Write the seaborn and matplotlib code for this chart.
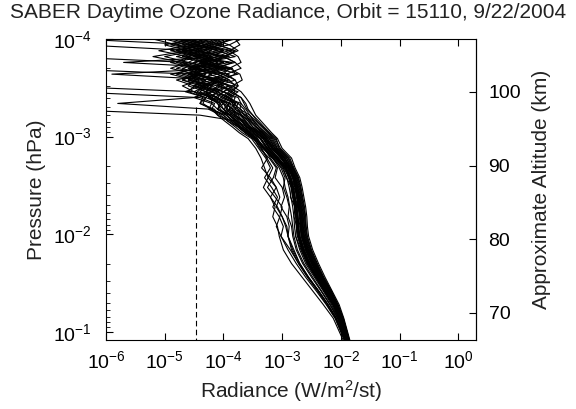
import matplotlib
matplotlib.use("Agg")
import matplotlib.pyplot as plt
import numpy as np
import pandas as pd
import seaborn as sns
from matplotlib.ticker import LogLocator, NullLocator, NullFormatter, FuncFormatter

# ---------------- data ----------------
title = "SABER Daytime Ozone Radiance, Orbit = 15110, 9/22/2004"
x_label = "Radiance (W/m$^2$/st)"
y_label = "Pressure (hPa)"
alt_label = "Approximate Altitude (km)"

# pressure levels, log10(hPa), top to bottom
log_pressure = [-4.00, -3.94, -3.88, -3.82, -3.76, -3.70, -3.64, -3.58, -3.52,
                -3.46, -3.40, -3.34, -3.28, -3.22, -3.16, -3.10, -3.04, -2.98,
                -2.88, -2.78, -2.68, -2.58, -2.48, -2.38, -2.28, -2.18, -2.08,
                -1.98, -1.84, -1.70, -1.56, -1.42, -1.28, -1.14, -0.90]

N = None
# log10 radiance of each profile on the levels above
prof_01 = [-4.1, -4.5, -3.9, -4.3, -4.0, -4.6, -4.1, -3.9, -4.3, -4.0, -3.85, -3.9, -3.75, -3.7, -3.53, -3.45, -3.33, -3.22,
           -3.12, -2.96, -2.86, -2.78, -2.74, -2.71, -2.68, -2.66, -2.65, -2.63, -2.56, -2.46, -2.34, -2.2, -2.08, -1.98, -1.87]
prof_02 = [-4.4, -4.0, -4.7, -4.2, -4.5, -3.95, -4.35, -4.6, -4.1, -4.2, -4.0, -3.8, -3.9, -3.7, -3.63, -3.55, -3.38, -3.28,
           -3.18, -3.02, -2.9, -2.82, -2.78, -2.75, -2.72, -2.7, -2.69, -2.67, -2.6, -2.5, -2.37, -2.23, -2.1, -2.0, -1.88]
prof_03 = [N, N, N, -6.8, -4.6, -4.2, -4.5, -4.0, -4.4, -4.1, -4.2, -3.9, -4.0, -3.8, -3.68, -3.62, -3.48, -3.36,
           -3.26, -3.09, -2.95, -2.87, -2.83, -2.8, -2.77, -2.75, -2.74, -2.72, -2.65, -2.55, -2.41, -2.27, -2.13, -2.02, -1.9]
prof_04 = [-3.8, -4.2, -4.0, -4.5, -3.85, -4.1, -3.75, -4.2, -3.9, -3.8, -3.95, -3.7, -3.72, -3.55, -3.48, -3.4, -3.28, -3.16,
           -3.08, -2.92, -2.83, -2.75, -2.71, -2.68, -2.65, -2.63, -2.62, -2.6, -2.53, -2.43, -2.31, -2.18, -2.06, -1.97, -1.86]
prof_05 = [-4.7, -4.3, -4.9, -4.4, -4.6, -4.2, -4.7, -4.3, -4.5, -4.2, -4.3, -4.05, -4.1, -3.9, -3.78, -3.7, -3.55, -3.42,
           -3.3, -3.14, -2.98, -2.93, -2.84, -2.86, -2.78, -2.8, -2.75, -2.77, -2.68, -2.58, -2.43, -2.29, -2.14, -2.04, -1.91]
prof_06 = [-3.7, -3.9, -3.75, -4.0, -3.8, -3.7, -3.95, -3.8, -3.75, -3.85, -3.7, -3.65, -3.6, -3.5, -3.43, -3.33, -3.23, -3.12,
           -3.03, -2.87, -2.8, -2.72, -2.68, -2.65, -2.62, -2.6, -2.59, -2.57, -2.5, -2.4, -2.29, -2.16, -2.05, -1.96, -1.85]
prof_07 = [-6.5, -4.4, -4.8, -4.3, -4.1, -4.5, -4.2, -4.4, -4.0, -4.3, -4.1, -3.95, -3.85, -3.8, -3.64, -3.55, -3.41, -3.3,
           -3.2, -3.0, -2.92, -2.8, -2.8, -2.73, -2.74, -2.68, -2.7, -2.66, -2.6, -2.5, -2.37, -2.23, -2.1, -2.0, -1.88]
prof_08 = [-4.9, -4.5, -5.1, -4.6, -4.8, -4.4, -4.9, -4.5, -4.6, -4.3, -4.5, -4.2, -4.25, -4.05, -3.93, -3.8, -3.68, -3.52,
           -3.4, -3.28, -3.2, -3.3, -3.18, -3.08, -3.16, -3.05, -2.98, -3.02, -2.9, -2.76, -2.6, -2.42, -2.25, -2.1, -1.93]
prof_09 = [-4.5, -5.0, -4.6, -5.2, -4.7, -4.5, -4.8, -4.4, -4.7, -4.5, -4.35, -4.4, -4.15, -4.1, -3.88, -3.75, -3.63, -3.48,
           -3.38, -3.22, -3.1, -3.15, -3.25, -3.12, -3.0, -3.04, -3.1, -3.02, -2.86, -2.72, -2.56, -2.38, -2.22, -2.08, -1.92]
prof_10 = [N, N, N, N, N, -7.0, -4.5, -4.1, -4.4, -4.0, -4.15, -3.9, -3.95, -3.75, -3.68, -3.57, -3.45, -3.32,
           -3.22, -3.06, -2.93, -2.85, -2.81, -2.78, -2.75, -2.73, -2.72, -2.7, -2.63, -2.53, -2.39, -2.25, -2.12, -2.01, -1.89]
prof_11 = [-4.2, -3.9, -4.4, -4.0, -4.3, -3.9, -4.25, -3.95, -4.1, -3.85, -4.0, -3.75, -3.8, -3.62, -3.56, -3.45, -3.35, -3.25,
           -3.15, -2.99, -2.88, -2.8, -2.76, -2.73, -2.7, -2.68, -2.67, -2.65, -2.58, -2.48, -2.35, -2.22, -2.09, -1.99, -1.87]
prof_12 = [-5.0, -4.6, -4.4, -4.8, -4.3, -4.7, -4.4, -4.6, -4.25, -4.4, -4.2, -4.0, -4.1, -3.9, -3.76, -3.65, -3.55, -3.42,
           -3.35, -3.25, -3.35, -3.2, -3.1, -3.2, -3.08, -3.0, -2.92, -2.9, -2.82, -2.7, -2.55, -2.38, -2.22, -2.08, -1.92]
prof_13 = [N, N, N, N, N, N, N, N, N, -6.6, -4.4, -4.15, -4.2, -3.95, -3.83, -3.73, -3.58, -3.45,
           -3.33, -3.17, -3.0, -2.92, -2.88, -2.85, -2.82, -2.8, -2.79, -2.77, -2.7, -2.6, -2.45, -2.3, -2.16, -2.05, -1.92]
prof_14 = [-4.0, -4.3, -3.85, -4.1, -4.4, -3.9, -4.0, -4.25, -3.85, -4.0, -3.8, -3.85, -3.7, -3.65, -3.5, -3.43, -3.31, -3.2,
           -3.1, -2.95, -2.85, -2.77, -2.73, -2.7, -2.67, -2.65, -2.64, -2.62, -2.55, -2.45, -2.33, -2.2, -2.07, -1.98, -1.86]
prof_15 = [N, N, N, N, N, N, N, N, N, N, N, N, -6.8, -4.4, -3.78, -3.6, -3.45, -3.3,
           -3.17, -3.03, -2.89, -2.83, -2.77, -2.76, -2.71, -2.71, -2.68, -2.68, -2.6, -2.5, -2.37, -2.23, -2.1, -2.0, -1.88]
prof_16 = [-4.6, -4.2, -4.5, -3.9, -4.4, -4.1, -4.6, -4.0, -4.3, -4.45, -4.1, -4.0, -3.95, -3.85, -3.7, -3.61, -3.49, -3.36,
           -3.25, -3.1, -2.93, -2.89, -2.81, -2.82, -2.75, -2.77, -2.72, -2.73, -2.65, -2.55, -2.41, -2.27, -2.13, -2.02, -1.9]
prof_17 = [-3.8, -3.72, -3.9, -3.75, -3.7, -3.9, -3.72, -3.68, -3.85, -3.7, -3.62, -3.55, -3.5, -3.45, -3.36, -3.27, -3.18, -3.08,
           -3.0, -2.84, -2.78, -2.7, -2.66, -2.63, -2.6, -2.58, -2.57, -2.55, -2.48, -2.38, -2.27, -2.15, -2.03, -1.95, -1.84]
prof_18 = [-4.8, -4.4, -4.7, -4.3, -4.9, -4.5, -4.4, -4.8, -4.5, -4.6, -4.3, -4.35, -4.2, -4.0, -3.93, -3.75, -3.63, -3.5,
           -3.32, -3.15, -3.02, -2.95, -2.98, -2.92, -2.88, -2.9, -2.84, -2.82, -2.76, -2.65, -2.5, -2.34, -2.19, -2.06, -1.91]
prof_19 = [N, N, N, N, N, N, N, N, -6.9, -4.5, -4.2, -4.05, -4.1, -3.85, -3.73, -3.65, -3.51, -3.37,
           -3.24, -3.08, -2.94, -2.86, -2.82, -2.79, -2.76, -2.74, -2.73, -2.71, -2.64, -2.54, -2.4, -2.26, -2.12, -2.02, -1.89]
prof_20 = [-4.3, -4.6, -4.0, -4.4, -4.2, -4.5, -3.9, -4.2, -4.0, -3.9, -4.05, -3.8, -3.85, -3.7, -3.58, -3.5, -3.38, -3.27,
           -3.15, -2.99, -2.88, -2.8, -2.76, -2.73, -2.7, -2.68, -2.67, -2.65, -2.58, -2.48, -2.35, -2.22, -2.09, -1.99, -1.87]
prof_21 = [-4.5, -4.1, -4.3, -4.7, -4.0, -4.3, -4.5, -4.15, -4.35, -4.1, -3.95, -4.0, -3.82, -3.8, -3.66, -3.55, -3.43, -3.32,
           -3.21, -3.07, -2.9, -2.86, -2.78, -2.79, -2.72, -2.74, -2.69, -2.7, -2.62, -2.52, -2.39, -2.24, -2.11, -2.01, -1.89]
prof_22 = [-5.2, -4.8, -4.5, -5.0, -4.6, -4.9, -4.5, -4.7, -4.4, -4.65, -4.3, -4.4, -4.2, -4.1, -3.98, -3.85, -3.73, -3.58,
           -3.45, -3.36, -3.3, -3.24, -3.32, -3.2, -3.12, -3.16, -3.08, -3.05, -2.98, -2.84, -2.66, -2.48, -2.3, -2.13, -1.95]
prof_23 = [N, -6.4, -4.5, -4.0, -4.35, -4.05, -4.4, -4.1, -4.2, -4.0, -4.1, -3.88, -3.9, -3.72, -3.62, -3.53, -3.4, -3.28,
           -3.16, -3.01, -2.89, -2.81, -2.77, -2.74, -2.71, -2.69, -2.68, -2.66, -2.59, -2.49, -2.36, -2.22, -2.09, -1.99, -1.88]
prof_24 = [-3.95, -4.2, -4.5, -4.0, -3.8, -4.2, -4.0, -3.8, -4.1, -3.75, -3.9, -3.75, -3.65, -3.6, -3.48, -3.39, -3.29, -3.18,
           -3.09, -2.93, -2.84, -2.76, -2.72, -2.69, -2.66, -2.64, -2.63, -2.61, -2.54, -2.44, -2.32, -2.19, -2.07, -1.97, -1.86]
prof_25 = [-4.8, -4.4, -4.1, -4.6, -4.3, -4.0, -4.4, -4.6, -4.2, -4.3, -4.2, -4.1, -4.0, -3.88, -3.76, -3.67, -3.53, -3.38,
           -3.27, -3.11, -2.96, -2.88, -2.84, -2.81, -2.78, -2.76, -2.75, -2.73, -2.66, -2.56, -2.42, -2.27, -2.13, -2.03, -1.9]
prof_26 = [-4.6, -4.9, -4.4, -4.6, -4.7, -4.3, -4.5, -4.2, -4.5, -4.3, -4.25, -4.1, -4.05, -3.95, -3.83, -3.71, -3.59, -3.46,
           -3.3, -3.16, -3.05, -2.98, -2.95, -2.9, -2.87, -2.84, -2.82, -2.8, -2.74, -2.63, -2.48, -2.33, -2.18, -2.05, -1.91]
prof_27 = [-4.1, -4.3, -4.0, -4.2, -4.4, -4.0, -5.9, -4.1, -3.9, -4.1, -3.9, -3.8, -3.75, -3.62, -3.54, -3.45, -3.33, -3.22,
           -3.12, -2.96, -2.86, -2.78, -2.74, -2.71, -2.68, -2.66, -2.65, -2.63, -2.56, -2.46, -2.34, -2.2, -2.08, -1.98, -1.87]
prof_28 = [-4.4, -4.7, -4.3, -4.1, -4.5, -4.4, -4.1, -4.5, -4.2, -4.3, -4.1, -4.0, -3.92, -3.82, -3.68, -3.59, -3.45, -3.33,
           -3.22, -3.06, -2.93, -2.85, -2.81, -2.78, -2.75, -2.73, -2.72, -2.7, -2.63, -2.53, -2.39, -2.25, -2.12, -2.01, -1.89]
prof_29 = [-3.85, -4.1, -3.8, -3.95, -4.2, -3.85, -3.8, -4.0, -3.75, -3.9, -3.7, -3.62, -3.58, -3.5, -3.4, -3.31, -3.21, -3.1,
           -3.05, -2.89, -2.81, -2.73, -2.69, -2.66, -2.63, -2.61, -2.6, -2.58, -2.51, -2.41, -2.3, -2.17, -2.05, -1.96, -1.85]
prof_30 = [-4.7, -4.3, -4.6, -4.2, -4.5, -4.8, -4.3, -4.5, -4.4, -4.2, -4.5, -5.8, -4.2, -4.0, -3.88, -3.75, -3.63, -3.48,
           -3.36, -3.26, -3.16, -3.24, -3.1, -3.04, -3.1, -3.0, -2.94, -2.9, -2.84, -2.72, -2.57, -2.4, -2.24, -2.09, -1.93]
prof_31 = [-4.2, -4.6, -4.1, -3.8, -4.3, -4.5, -4.0, -4.2, -3.9, -4.2, -3.9, -3.85, -3.8, -3.68, -3.58, -3.5, -3.36, -3.25,
           -3.13, -2.97, -2.87, -2.79, -2.75, -2.72, -2.69, -2.67, -2.66, -2.64, -2.57, -2.47, -2.35, -2.21, -2.08, -1.99, -1.87]
prof_32 = [-4.5, -4.8, -4.2, -4.5, -3.9, -4.4, -4.6, -4.3, -4.5, -4.1, -4.25, -4.05, -4.0, -3.9, -3.8, -3.7, -3.56, -3.44,
           -3.28, -3.12, -2.97, -2.89, -2.85, -2.82, -2.79, -2.77, -2.76, -2.74, -2.67, -2.57, -2.43, -2.28, -2.14, -2.03, -1.9]
prof_33 = [-3.9, -4.1, -3.8, -4.0, -5.7, -3.85, -4.1, -3.9, -3.8, -4.0, -3.75, -3.7, -3.62, -3.55, -3.45, -3.35, -3.25, -3.14,
           -3.06, -2.9, -2.82, -2.74, -2.7, -2.67, -2.64, -2.62, -2.61, -2.59, -2.52, -2.42, -2.31, -2.17, -2.06, -1.96, -1.85]
prof_34 = [-4.6, -4.3, -4.8, -4.5, -4.2, -4.6, -4.4, -4.7, -4.3, -4.5, -4.2, -4.2, -4.1, -3.95, -3.85, -3.72, -3.6, -3.46,
           -3.3, -3.2, -3.08, -3.12, -3.0, -2.96, -3.02, -2.92, -2.88, -2.9, -2.8, -2.7, -2.55, -2.38, -2.22, -2.08, -1.92]

profiles = [prof_01, prof_02, prof_03, prof_04, prof_05, prof_06, prof_07, prof_08, prof_09, prof_10,
            prof_11, prof_12, prof_13, prof_14, prof_15, prof_16, prof_17, prof_18, prof_19, prof_20,
            prof_21, prof_22, prof_23, prof_24, prof_25, prof_26, prof_27, prof_28, prof_29, prof_30,
            prof_31, prof_32, prof_33, prof_34]

noise_level = 3.4e-5          # dashed vertical line (W/m^2/st)
noise_top_pressure = 5.0e-4   # top end of dashed line (hPa)

x_ticks = [1e-6, 1e-5, 1e-4, 1e-3, 1e-2, 1e-1, 1e0]
y_ticks = [1e-4, 1e-3, 1e-2, 1e-1]
alt_ticks = [70, 80, 90, 100]

# approximate altitude mapping: alt = ALT_REF - KM_PER_DECADE * (log10 p - LOGP_REF)
ALT_REF, LOGP_REF, KM_PER_DECADE = 100.0, -3.458, 13.26

# ---------------- build long-form table ----------------
rows = []
for i, prof in enumerate(profiles):
    for lp, lr in zip(log_pressure, prof):
        if lr is None:
            continue
        rows.append((i, 10.0 ** lr, 10.0 ** lp))
df = pd.DataFrame(rows, columns=["profile", "radiance", "pressure"])

# ---------------- style ----------------
sns.set_theme(style="ticks")
plt.rcParams["font.family"] = ["Liberation Sans", "DejaVu Sans"]
plt.rcParams.update({
    "mathtext.fontset": "custom",
    "mathtext.rm": "Liberation Sans",
    "mathtext.it": "Liberation Sans:italic",
    "mathtext.bf": "Liberation Sans:bold",
    "axes.unicode_minus": False,
    "axes.edgecolor": "black",
    "axes.linewidth": 0.8,
    "xtick.color": "black",
    "ytick.color": "black",
    "text.color": "#222222",
})

fig = plt.figure(figsize=(5.76, 4.09), dpi=100)
L, R, T, B = 106, 476, 39, 340
ax = fig.add_axes([L / 576, 1 - B / 409, (R - L) / 576, (B - T) / 409])
ax.set_xscale("log")
ax.set_yscale("log")

sns.lineplot(data=df, x="radiance", y="pressure", units="profile", estimator=None,
             sort=False, color="black", lw=0.8, legend=False, ax=ax)

ax.plot([noise_level, noise_level], [noise_top_pressure, 0.121], color="black",
        lw=0.8, linestyle=(0, (5, 3)))

ax.set_xlim(1e-6, 2.0)
ax.set_ylim(0.121, 1e-4)
ax.set_xticks(x_ticks)
ax.xaxis.set_minor_locator(NullLocator())
ax.set_yticks(y_ticks)
ax.yaxis.set_minor_locator(LogLocator(base=10, subs=np.arange(2, 10)))
ax.yaxis.set_minor_formatter(NullFormatter())

ax.tick_params(axis="both", which="major", direction="in", length=5, width=0.8,
               labelsize=14, top=True, right=False)
ax.tick_params(axis="x", which="major", pad=7)
ax.tick_params(axis="y", which="major", pad=10)
ax.tick_params(axis="y", which="minor", direction="in", length=3, width=0.6, right=False)

ax.set_xlabel(x_label, fontsize=15, color="#222222", labelpad=5)
ax.set_ylabel(y_label, fontsize=15, color="#222222", labelpad=5)


def p2alt(p):
    p = np.asarray(p, dtype=float)
    return ALT_REF - KM_PER_DECADE * (np.log10(np.clip(p, 1e-12, None)) - LOGP_REF)


def alt2p(a):
    a = np.asarray(a, dtype=float)
    return 10.0 ** ((ALT_REF - a) / KM_PER_DECADE + LOGP_REF)


sec = ax.secondary_yaxis("right", functions=(p2alt, alt2p))
sec.set_yticks(alt_ticks)
sec.yaxis.set_major_formatter(FuncFormatter(lambda v, pos: f"{v:.0f}"))
sec.yaxis.set_minor_locator(NullLocator())
sec.tick_params(direction="in", length=5, width=0.8, labelsize=14, pad=9)
sec.set_ylabel(alt_label, fontsize=15, color="#222222", labelpad=8)
sec.spines["right"].set_linewidth(0.8)

fig.text(0.5, 1 - 13 / 409, title, ha="center", va="center", fontsize=15, color="#222222")

fig.savefig("out.png", dpi=100)
